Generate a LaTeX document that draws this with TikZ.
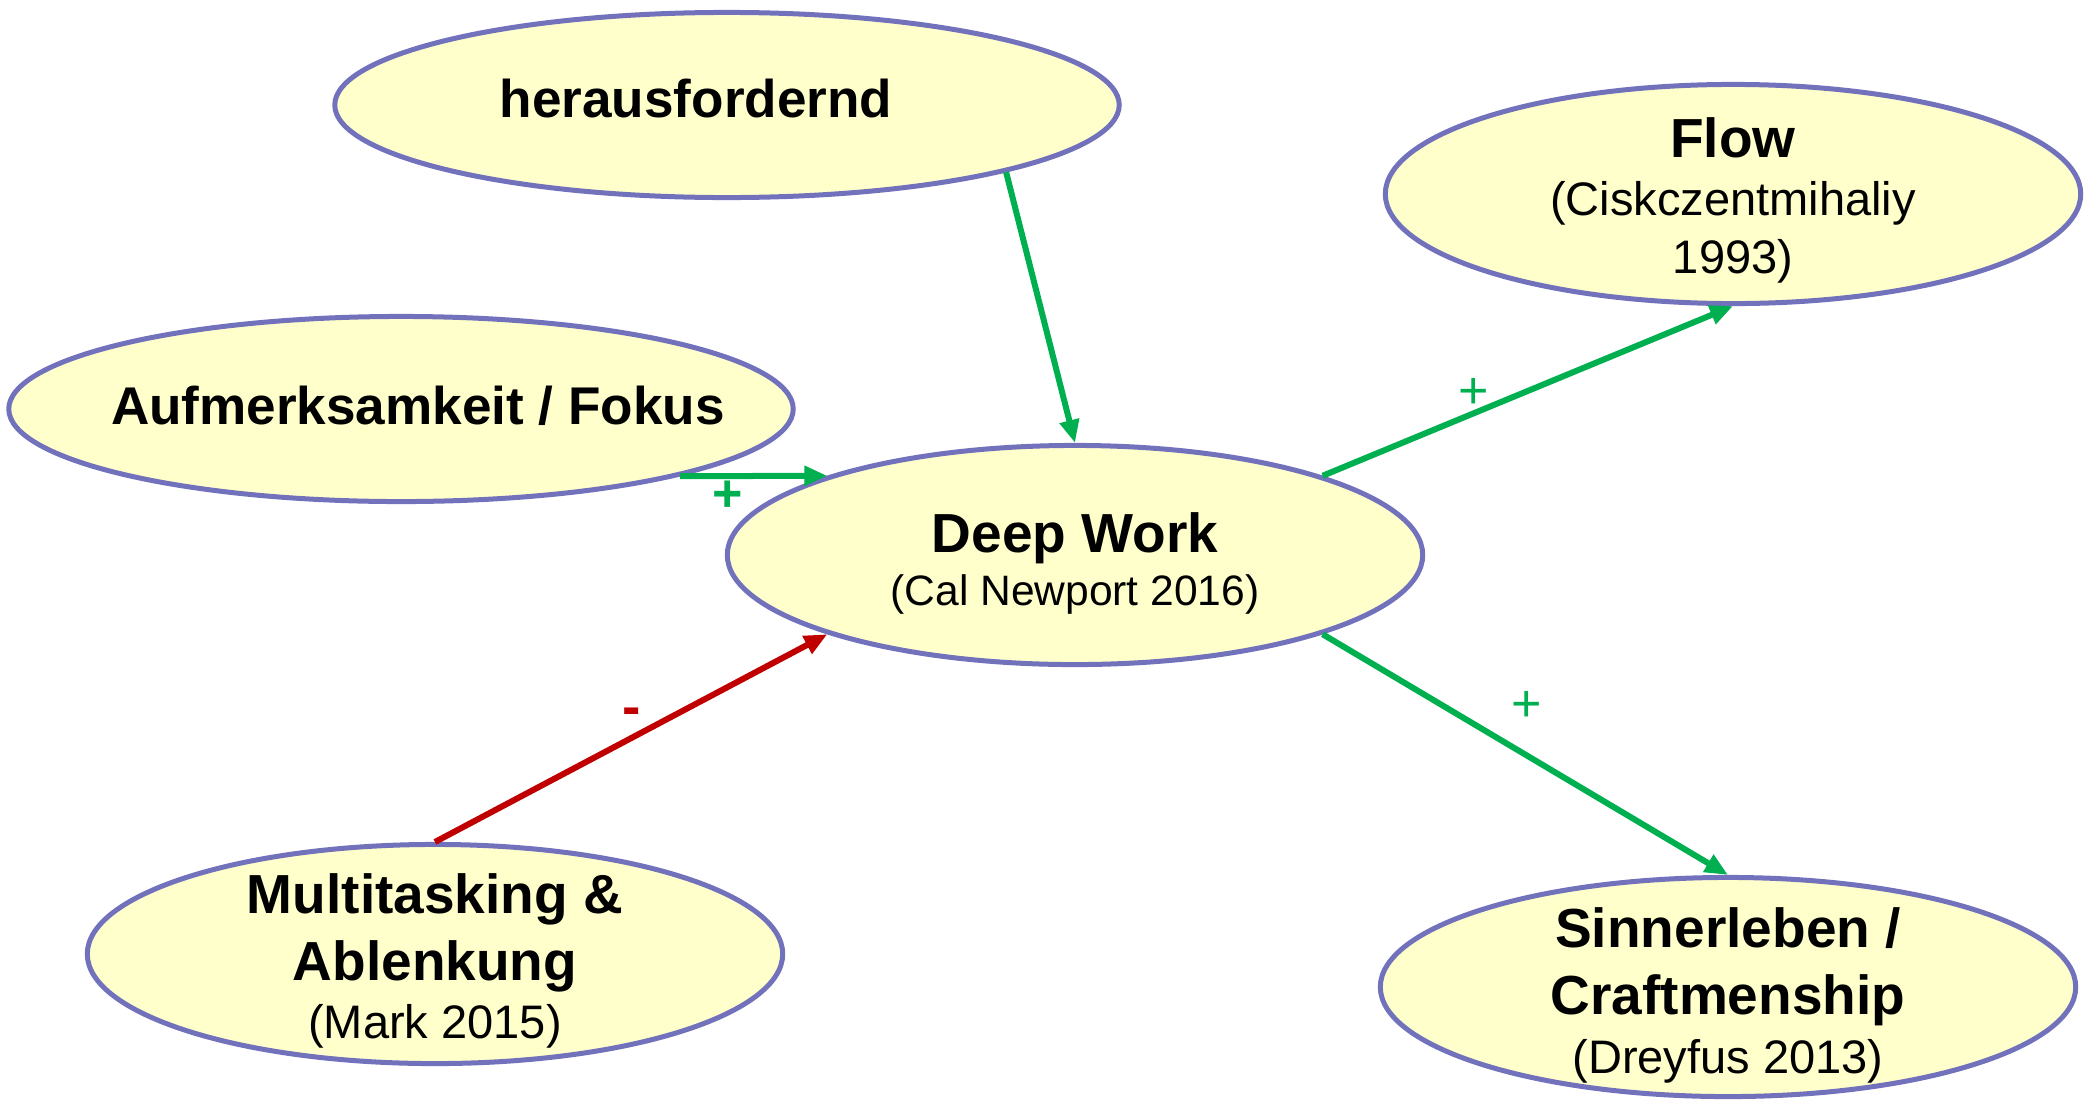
\documentclass[tikz,border=0pt]{standalone}
\usepackage{fontspec}
\setmainfont{Liberation Sans}
\usetikzlibrary{arrows.meta,shapes.geometric}

\definecolor{bubblefill}{RGB}{255,255,204}
\definecolor{bubbleedge}{RGB}{114,114,188}
\definecolor{posgreen}{RGB}{0,176,80}
\definecolor{negred}{RGB}{192,0,0}

\begin{document}
\begin{tikzpicture}[x=0.01cm,y=-0.01cm,
  bubble/.style={ellipse,draw=bubbleedge,fill=bubblefill,line width=0.05cm,inner sep=0pt},
  widebubble/.style={bubble,minimum width=7.84cm,minimum height=1.85cm},
  roundbubble/.style={bubble,minimum width=6.95cm,minimum height=2.19cm},
  title/.style={anchor=base,inner sep=0pt,font=\fontsize{15.65pt}{18pt}\selectfont\bfseries},
  widetitle/.style={anchor=base,inner sep=0pt,font=\fontsize{15.1pt}{18pt}\selectfont\bfseries},
  source/.style={anchor=base,inner sep=0pt,font=\fontsize{13.37pt}{16pt}\selectfont},
  smallsource/.style={anchor=base,inner sep=0pt,font=\fontsize{12.1pt}{15pt}\selectfont},
  link/.style={line width=0.06cm,-{Triangle[length=0.23cm,width=0.19cm]}},
  poslink/.style={link,draw=posgreen,fill=posgreen},
  neglink/.style={link,draw=negred,fill=negred},
  sign/.style={anchor=base,inner sep=0pt,font=\fontsize{14.8pt}{17pt}\selectfont},
]
\useasboundingbox (0,0) rectangle (2092,1100);

% concept bubbles
\node[widebubble]  (her)  at (727,105)  {};
\node[widebubble]  (auf)  at (401,409)  {};
\node[roundbubble] (dw)   at (1075,555) {};
\node[roundbubble] (flow) at (1733,194) {};
\node[roundbubble] (mult) at (435,954)  {};
\node[roundbubble] (sinn) at (1728,987) {};

% bubble texts
\node[widetitle] (herT) at (696,117) {herausfordernd};
\node[widetitle] (aufT) at (418,424) {Aufmerksamkeit / Fokus};

\node[title]       (dwT)  at (1075,552) {Deep Work};
\node[smallsource] (dwS)  at (1075,605) {(Cal Newport 2016)};

\node[title]  (flowT)  at (1733,157) {Flow};
\node[source] (flowS1) at (1733,215) {(Ciskczentmihaliy};
\node[source] (flowS2) at (1733,273) {1993)};

\node[title]  (multT1) at (435,913)  {Multitasking \&};
\node[title]  (multT2) at (435,980)  {Ablenkung};
\node[source] (multS)  at (435,1038) {(Mark 2015)};

\node[title]  (sinnT1) at (1728,947)  {Sinnerleben /};
\node[title]  (sinnT2) at (1728,1014) {Craftmenship};
\node[source] (sinnS)  at (1728,1073) {(Dreyfus 2013)};

% influences
\draw[poslink] (her.south east) -- (dw.north);
\draw[poslink] (auf.south east) -- (dw.north west);
\draw[poslink] (dw.north east) -- (flow.south);
\draw[poslink] (dw.south east) -- (sinn.north);
\draw[neglink] (mult.north) -- (dw.south west);

% signs of the influences
\node[sign,text=posgreen,font=\fontsize{14.8pt}{17pt}\selectfont\bfseries] (plusAuf) at (728,511) {+};
\node[sign,text=posgreen] (plusFlow) at (1474,408) {+};
\node[sign,text=posgreen] (plusSinn) at (1527,721) {+};
\node[sign,text=negred,font=\fontsize{15.65pt}{18pt}\selectfont\bfseries] (minusMult) at (632,725) {-};
\end{tikzpicture}
\end{document}
